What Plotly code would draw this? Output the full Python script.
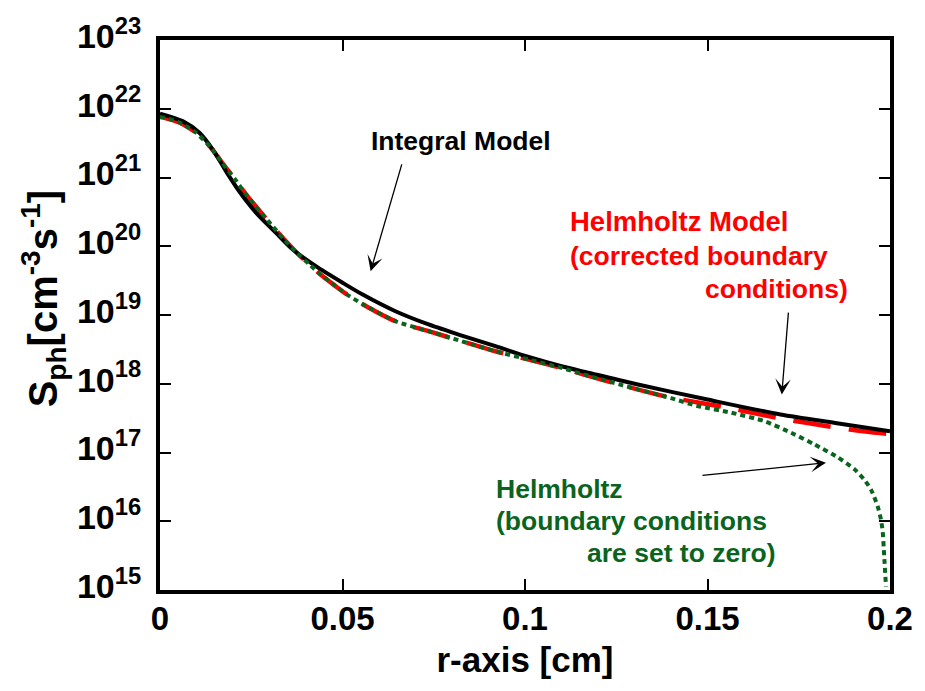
import plotly.graph_objects as go

# Radial positions [cm] and photon source term S_ph [cm^-3 s^-1]
r_integral = [0.0, 0.0062, 0.0108, 0.0144, 0.0181, 0.0217, 0.0263, 0.0317, 0.0363, 0.0427,
              0.05, 0.0554, 0.0645, 0.0736, 0.0827, 0.0919, 0.101, 0.110, 0.1173, 0.13,
              0.15, 0.17, 0.185, 0.2]
s_integral = [8.51e21, 6.61e21, 4.47e21, 2.57e21, 1.23e21, 6.31e20, 3.09e20, 1.58e20, 9.02e19, 5.13e19,
              2.95e19, 2.0e19, 1.135e19, 7.28e18, 5.01e18, 3.52e18, 2.45e18, 1.80e18, 1.45e18, 1.0e18,
              5.89e17, 3.57e17, 2.69e17, 2.04e17]

r_helm_bc = [0.0, 0.0012, 0.0053, 0.0099, 0.014, 0.0171, 0.0206, 0.0235, 0.0272, 0.0304,
             0.034, 0.0372, 0.0408, 0.044, 0.0481, 0.0509, 0.0554, 0.0645, 0.0736, 0.0827,
             0.0919, 0.101, 0.110, 0.1164, 0.13, 0.14, 0.1547, 0.1656, 0.1711, 0.182,
             0.1889, 0.2]
s_helm_bc = [7.59e21, 7.41e21, 6.31e21, 4.47e21, 2.69e21, 1.62e21, 9.33e20, 5.75e20, 3.31e20, 2.09e20,
             1.26e20, 8.32e19, 5.50e19, 3.89e19, 2.63e19, 2.04e19, 1.45e19, 8.13e18, 5.81e18, 4.15e18,
             2.97e18, 2.25e18, 1.70e18, 1.35e18, 8.51e17, 6.3e17, 4.57e17, 3.47e17, 3.05e17, 2.45e17,
             2.16e17, 1.84e17]

r_helm_zero = [0.0, 0.0012, 0.0053, 0.0099, 0.014, 0.0171, 0.0206, 0.0235, 0.0272, 0.0304,
               0.034, 0.0372, 0.0408, 0.044, 0.0481, 0.0509, 0.0554, 0.0645, 0.0736, 0.0827,
               0.0919, 0.101, 0.110, 0.1164, 0.13, 0.14, 0.1475, 0.1565, 0.1656, 0.1729,
               0.1793, 0.1857, 0.1902, 0.1929, 0.1948, 0.1966, 0.1975, 0.198, 0.1984, 0.1989]
s_helm_zero = [7.59e21, 7.41e21, 6.31e21, 4.47e21, 2.69e21, 1.62e21, 9.33e20, 5.75e20, 3.31e20, 2.09e20,
               1.26e20, 8.32e19, 5.50e19, 3.89e19, 2.63e19, 2.04e19, 1.45e19, 8.13e18, 5.81e18, 4.15e18,
               2.97e18, 2.25e18, 1.70e18, 1.35e18, 8.51e17, 6.17e17, 4.71e17, 3.80e17, 2.85e17, 1.94e17,
               1.31e17, 8.51e16, 5.75e16, 4.07e16, 2.88e16, 1.66e16, 1.07e16, 7.08e15, 3.16e15, 1.12e15]

x_ticks = [0, 0.05, 0.1, 0.15, 0.2]
x_tick_labels = ["0", "0.05", "0.1", "0.15", "0.2"]
y_ticks = [1e15, 1e16, 1e17, 1e18, 1e19, 1e20, 1e21, 1e22, 1e23]
y_tick_labels = ["10<sup>%d</sup>" % e for e in range(15, 24)]

RED = "#ff0000"
GREEN = "#0b641e"
FONT = "Liberation Sans, Arial, sans-serif"

fig = go.Figure()
fig.add_trace(go.Scatter(x=r_helm_bc, y=s_helm_bc, mode="lines",
                         line=dict(color=RED, width=4.5, dash="38px,18px", shape="spline", smoothing=0.8)))
fig.add_trace(go.Scatter(x=r_integral, y=s_integral, mode="lines",
                         line=dict(color="black", width=4, shape="spline", smoothing=0.8)))
fig.add_trace(go.Scatter(x=r_helm_zero, y=s_helm_zero, mode="lines",
                         line=dict(color=GREEN, width=4, dash="5px,4px", shape="spline", smoothing=0.6)))

axis_common = dict(showline=True, linewidth=4, linecolor="black", mirror="ticks",
                   ticks="inside", ticklen=11, tickwidth=1.5, tickcolor="black",
                   showgrid=False, zeroline=False)

fig.update_xaxes(range=[0, 0.2], tickvals=x_ticks, ticktext=x_tick_labels,
                 ticklabelstandoff=-4,
                 tickfont=dict(family=FONT, size=33, color="black", weight="bold"),
                 title=dict(text="r-axis [cm]", standoff=13,
                            font=dict(family=FONT, size=35, color="black", weight="bold")),
                 **axis_common)
fig.update_yaxes(type="log", range=[15, 23], tickvals=y_ticks, ticktext=y_tick_labels,
                 ticklabelstandoff=8, ticklabelshift=-4,
                 tickfont=dict(family=FONT, size=34, color="black", weight="bold"),
                 **axis_common)

# y-axis title placed as a rotated annotation
fig.add_annotation(text="S<sub>ph</sub>[cm<sup>-3</sup>s<sup>-1</sup>]", textangle=-90,
                   xref="paper", yref="paper", x=(43 - 160) / 732, y=(590 - 299) / 550,
                   xanchor="center", yanchor="middle", showarrow=False,
                   font=dict(family=FONT, size=40, color="black", weight="bold"))

ann_font = dict(family=FONT, size=26.5, weight="bold")
arrow_style = dict(showarrow=True, arrowhead=3, arrowsize=2.0, arrowwidth=1.3, arrowcolor="black")

# Integral model label + arrow
fig.add_annotation(text="Integral Model", x=0.05724, y=21.53, xref="x", yref="y",
                   xanchor="left", yanchor="middle", showarrow=False,
                   font=dict(color="black", **ann_font))
fig.add_annotation(text="", x=0.0577, y=19.637, xref="x", yref="y",
                   ax=31.6, ay=-108.4, **arrow_style)

# Helmholtz model with corrected boundary conditions
fig.add_annotation(text="Helmholtz Model", x=0.11189, y=20.36, xref="x", yref="y",
                   xanchor="left", yanchor="middle", showarrow=False,
                   font=dict(color=RED, family=FONT, size=27.5, weight="bold"))
fig.add_annotation(text="(corrected boundary", x=0.11189, y=19.86, xref="x", yref="y",
                   xanchor="left", yanchor="middle", showarrow=False,
                   font=dict(color=RED, **ann_font))
fig.add_annotation(text="conditions)", x=0.18893, y=19.38, xref="x", yref="y",
                   xanchor="right", yanchor="middle", showarrow=False,
                   font=dict(color=RED, **ann_font))
fig.add_annotation(text="", x=0.17036, y=17.844, xref="x", yref="y",
                   ax=6.7, ay=-83.3, **arrow_style)

# Helmholtz model with zero boundary conditions
fig.add_annotation(text="Helmholtz", x=0.0915, y=16.47, xref="x", yref="y",
                   xanchor="left", yanchor="middle", showarrow=False,
                   font=dict(color=GREEN, **ann_font))
fig.add_annotation(text="(boundary conditions", x=0.0915, y=16.0, xref="x", yref="y",
                   xanchor="left", yanchor="middle", showarrow=False,
                   font=dict(color=GREEN, **ann_font))
fig.add_annotation(text="are set to zero)", x=0.16926, y=15.54, xref="x", yref="y",
                   xanchor="right", yanchor="middle", showarrow=False,
                   font=dict(color=GREEN, **ann_font))
fig.add_annotation(text="", x=0.18246, y=16.85, xref="x", yref="y",
                   ax=-125, ay=12.7, **arrow_style)

fig.update_layout(width=925, height=691, showlegend=False,
                  margin=dict(l=160, r=33, t=40, b=101),
                  plot_bgcolor="white", paper_bgcolor="white")

fig.write_html("out.html")
